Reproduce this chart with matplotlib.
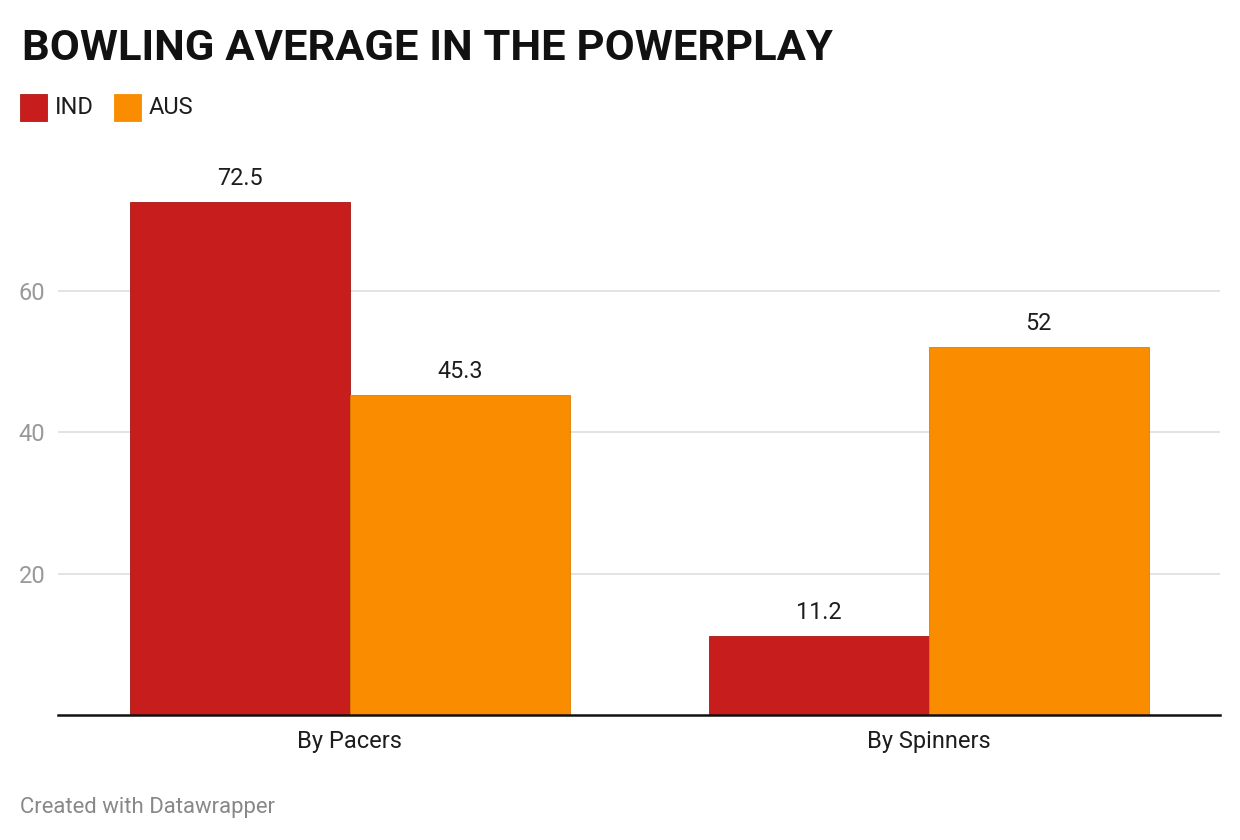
import numpy as np
import matplotlib.pyplot as plt

plt.rcParams['font.family'] = ['Roboto', 'DejaVu Sans']

categories = ['By Pacers', 'By Spinners']
series_names = ['IND', 'AUS']
ind_values = [72.5, 11.2]
aus_values = [45.3, 52]
value_labels_ind = ['72.5', '11.2']
value_labels_aus = ['45.3', '52']
y_ticks = [20, 40, 60]

col_ind = '#c71e1d'
col_aus = '#fa8c00'

W, H = 1240, 840
fig = plt.figure(figsize=(W / 100, H / 100), dpi=100)
# axes placed in pixel coordinates of the reference
x0, x1 = 58, 1220
y_base, y_top = 715, 184.4
ax = fig.add_axes([x0 / W, (H - y_base) / H, (x1 - x0) / W, (y_base - y_top) / H])

x = np.arange(len(categories))
bw = 0.38
b1 = ax.bar(x - bw / 2, ind_values, bw, color=col_ind, edgecolor='#a31716', linewidth=0.6, zorder=3)
b2 = ax.bar(x + bw / 2, aus_values, bw, color=col_aus, edgecolor='#e07d00', linewidth=0.6, zorder=3)

for bars, labs in ((b1, value_labels_ind), (b2, value_labels_aus)):
    for r, lab in zip(bars, labs):
        ax.annotate(lab, (r.get_x() + r.get_width() / 2, r.get_height()),
                    xytext=(0, 8.5), textcoords='offset points', ha='center', va='bottom',
                    fontsize=16.8, color='#1d1d1d')

ax.set_xlim(-0.504, 1.503)
ax.set_ylim(0, 75)
ax.set_yticks(y_ticks)
ax.set_yticklabels([str(t) for t in y_ticks])
ax.set_xticks(x)
ax.set_xticklabels(categories)
ax.grid(axis='y', color='#e0e0e0', linewidth=1.3, zorder=0)
for s in ['top', 'right', 'left']:
    ax.spines[s].set_visible(False)
ax.spines['bottom'].set_color('#111111')
ax.spines['bottom'].set_linewidth(1.8)
ax.spines['bottom'].set_zorder(4)
ax.tick_params(axis='y', length=0, pad=9, labelsize=17, labelcolor='#999999')
ax.tick_params(axis='x', length=0, pad=11, labelsize=17, labelcolor='#1d1d1d')

fig.text(22 / W, 1 - 60 / H, 'BOWLING AVERAGE IN THE POWERPLAY', fontsize=31.3,
         fontweight='bold', color='#111111', ha='left', va='baseline')

# legend
for i, (name, col, lx) in enumerate(zip(series_names, [col_ind, col_aus], [20, 114])):
    fig.patches.append(plt.Rectangle((lx / W, 1 - 121 / H), 27 / W, 27 / H,
                                     transform=fig.transFigure, facecolor=col,
                                     edgecolor=col if i else '#b01a19', linewidth=0.6))
    fig.text((lx + 35) / W, 1 - 107.5 / H, name, fontsize=17, color='#1d1d1d',
             ha='left', va='center')

fig.text(20 / W, 1 - 813 / H, 'Created with Datawrapper', fontsize=15.9, color='#888888',
         ha='left', va='baseline')

fig.savefig('out.png', dpi=100)
